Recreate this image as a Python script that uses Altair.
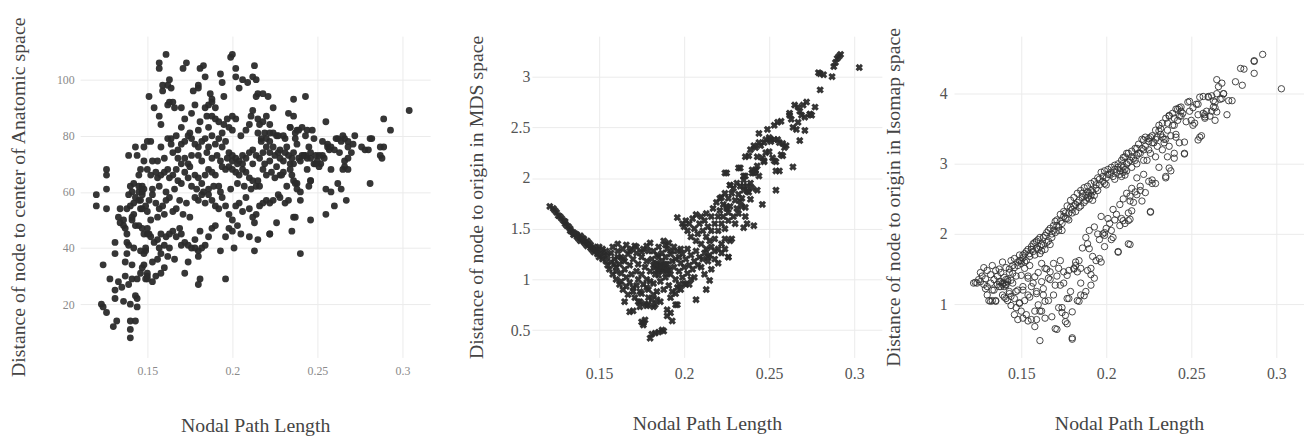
import altair as alt
import pandas as pd

# ---- data (x = nodal path length, y = distance) ----
anatomic_pts = [
    (0.120, 59), (0.120, 55), (0.126, 68), (0.126, 66), (0.126, 61), (0.126, 54), (0.123, 20), (0.124, 19),
    (0.126, 17), (0.124, 34), (0.128, 29), (0.130, 12), (0.131, 22), (0.131, 25), (0.131, 42), (0.131, 38),
    (0.132, 14), (0.133, 28), (0.134, 54), (0.133, 51), (0.134, 49), (0.136, 50), (0.135, 26), (0.136, 21),
    (0.137, 35), (0.137, 30), (0.137, 47), (0.138, 45), (0.138, 42), (0.139, 59), (0.139, 41), (0.140, 11),
    (0.140, 8), (0.140, 14), (0.140, 20), (0.141, 34), (0.141, 29), (0.142, 40), (0.142, 52), (0.142, 56),
    (0.143, 14), (0.143, 23), (0.144, 22), (0.144, 19), (0.144, 29), (0.140, 62), (0.141, 60), (0.139, 73),
    (0.143, 76), (0.142, 63), (0.140, 55), (0.138, 54), (0.136, 48), (0.138, 38), (0.139, 27), (0.141, 50),
    (0.143, 48), (0.145, 62), (0.145, 66), (0.146, 68), (0.146, 57), (0.147, 54), (0.147, 60), (0.148, 71),
    (0.147, 33), (0.148, 38), (0.149, 29), (0.149, 39), (0.150, 31), (0.150, 45), (0.150, 78),
    (0.157, 106), (0.157, 104), (0.161, 109), (0.159, 96), (0.162, 98), (0.163, 100), (0.164, 97), (0.171, 104),
    (0.173, 106), (0.181, 104), (0.183, 105), (0.184, 101), (0.188, 93), (0.187, 95), (0.180, 97), (0.180, 98),
    (0.177, 96), (0.193, 102), (0.194, 99), (0.199, 108), (0.200, 109), (0.202, 104), (0.202, 101), (0.206, 100),
    (0.204, 97), (0.209, 99), (0.212, 101), (0.213, 105), (0.214, 100), (0.159, 98),
    (0.151, 94), (0.154, 90), (0.162, 91), (0.163, 92), (0.165, 92), (0.166, 90), (0.170, 90), (0.178, 91),
    (0.184, 90), (0.186, 91), (0.188, 92), (0.190, 90), (0.195, 94), (0.214, 94), (0.215, 95), (0.218, 95),
    (0.221, 94), (0.224, 90), (0.236, 93), (0.243, 94), (0.157, 87), (0.158, 84),
    (0.176, 88), (0.172, 86), (0.181, 85), (0.185, 87), (0.188, 87), (0.190, 86), (0.192, 85), (0.186, 83),
    (0.180, 82), (0.175, 81), (0.170, 83), (0.167, 80), (0.164, 79), (0.197, 86), (0.200, 87), (0.202, 86),
    (0.198, 83), (0.200, 82), (0.208, 82), (0.210, 84), (0.211, 87), (0.212, 89), (0.215, 86), (0.216, 84),
    (0.218, 85), (0.220, 87), (0.224, 81), (0.226, 80), (0.230, 80), (0.234, 83), (0.236, 87), (0.233, 88),
    (0.238, 82), (0.241, 83), (0.244, 82), (0.255, 85), (0.243, 80), (0.248, 79), (0.237, 81), (0.205, 80),
    (0.194, 81), (0.188, 80), (0.195, 84), (0.215, 81), (0.219, 81), (0.222, 84),
    (0.152, 78), (0.148, 76), (0.158, 76), (0.162, 79), (0.164, 77), (0.168, 75), (0.170, 77), (0.172, 78),
    (0.174, 80), (0.176, 79), (0.178, 77), (0.180, 76), (0.182, 78), (0.184, 79), (0.186, 76), (0.190, 77),
    (0.192, 79), (0.194, 76), (0.196, 78), (0.198, 74), (0.200, 73), (0.202, 72), (0.204, 71), (0.206, 73),
    (0.208, 72), (0.210, 74), (0.212, 75), (0.214, 73), (0.216, 72), (0.218, 74), (0.220, 76), (0.222, 78),
    (0.225, 73), (0.228, 75), (0.230, 71), (0.232, 76), (0.235, 72), (0.236, 74), (0.238, 77), (0.240, 71),
    (0.242, 73), (0.244, 72), (0.246, 72), (0.248, 70), (0.250, 71), (0.252, 70), (0.254, 72), (0.256, 77),
    (0.258, 76), (0.260, 75), (0.262, 79), (0.264, 78), (0.266, 79), (0.268, 76), (0.270, 74), (0.272, 80),
    (0.276, 76), (0.278, 75), (0.281, 79), (0.288, 72), (0.289, 76), (0.289, 86), (0.293, 82), (0.304, 89),
    (0.266, 71), (0.265, 68), (0.258, 68), (0.253, 73), (0.249, 73), (0.245, 76), (0.234, 70), (0.228, 72),
    (0.222, 71), (0.219, 70), (0.212, 70), (0.206, 70), (0.203, 70), (0.200, 71), (0.197, 72), (0.172, 72),
    (0.168, 72), (0.165, 74), (0.176, 73), (0.180, 73), (0.185, 74), (0.188, 72), (0.191, 73), (0.160, 72),
    (0.156, 71), (0.153, 71), (0.144, 73), (0.170, 70), (0.174, 70), (0.182, 71), (0.193, 71),
    (0.150, 68), (0.152, 66), (0.155, 67), (0.156, 65), (0.158, 66), (0.160, 67), (0.162, 68), (0.163, 65),
    (0.165, 66), (0.167, 68), (0.168, 64), (0.172, 67), (0.174, 65), (0.176, 62), (0.178, 66), (0.180, 65),
    (0.182, 63), (0.184, 66), (0.186, 68), (0.188, 67), (0.190, 66), (0.192, 62), (0.194, 69), (0.196, 68),
    (0.198, 69), (0.200, 68), (0.202, 67), (0.204, 66), (0.206, 68), (0.208, 67), (0.210, 65), (0.212, 64),
    (0.214, 62), (0.216, 62), (0.218, 68), (0.220, 66), (0.223, 67), (0.226, 69), (0.228, 66), (0.232, 62),
    (0.234, 68), (0.236, 64), (0.238, 63), (0.240, 60), (0.244, 68), (0.246, 64), (0.255, 61), (0.258, 60),
    (0.262, 63), (0.264, 61), (0.266, 69), (0.268, 68), (0.281, 63), (0.145, 60), (0.147, 62), (0.148, 61),
    (0.153, 61), (0.157, 62), (0.161, 60), (0.166, 61), (0.170, 63), (0.175, 69), (0.179, 61), (0.183, 60),
    (0.186, 61), (0.189, 62), (0.193, 60), (0.199, 61), (0.203, 63), (0.207, 62), (0.211, 61), (0.215, 64),
    (0.225, 65), (0.230, 67), (0.251, 69), (0.245, 62),
    (0.143, 58), (0.145, 57), (0.147, 59), (0.149, 55), (0.151, 57), (0.153, 59), (0.155, 56), (0.157, 54),
    (0.159, 55), (0.161, 57), (0.163, 58), (0.165, 53), (0.167, 54), (0.169, 57), (0.171, 52), (0.173, 56),
    (0.175, 51), (0.178, 58), (0.180, 57), (0.182, 59), (0.184, 56), (0.186, 59), (0.188, 57), (0.190, 55),
    (0.192, 54), (0.194, 58), (0.196, 55), (0.198, 52), (0.200, 50), (0.202, 55), (0.204, 56), (0.206, 53),
    (0.208, 58), (0.210, 54), (0.212, 51), (0.214, 52), (0.216, 55), (0.218, 56), (0.220, 57), (0.222, 56),
    (0.224, 57), (0.226, 49), (0.228, 58), (0.231, 56), (0.236, 51), (0.240, 57), (0.246, 50), (0.255, 52),
    (0.260, 55), (0.267, 57), (0.213, 49), (0.160, 52), (0.156, 51), (0.152, 50), (0.150, 53), (0.146, 54),
    (0.141, 51),
    (0.145, 48), (0.147, 47), (0.148, 45), (0.150, 47), (0.152, 44), (0.154, 42), (0.156, 43), (0.158, 45),
    (0.160, 41), (0.161, 44), (0.163, 45), (0.165, 46), (0.167, 44), (0.169, 47), (0.170, 45), (0.172, 42),
    (0.174, 41), (0.176, 40), (0.178, 43), (0.181, 46), (0.184, 41), (0.186, 44), (0.188, 47), (0.190, 48),
    (0.193, 39), (0.196, 44), (0.198, 47), (0.200, 46), (0.201, 40), (0.203, 48), (0.205, 45), (0.210, 44),
    (0.213, 39), (0.215, 43), (0.222, 45), (0.235, 46), (0.157, 40), (0.163, 40), (0.170, 41), (0.180, 39),
    (0.182, 40), (0.146, 39), (0.149, 40), (0.151, 45),
    (0.150, 30), (0.150, 29), (0.153, 28), (0.155, 30), (0.153, 35), (0.158, 31), (0.160, 33), (0.162, 37),
    (0.166, 36), (0.172, 31), (0.174, 35), (0.178, 40), (0.180, 37), (0.180, 27), (0.181, 29), (0.196, 29),
    (0.240, 38), (0.158, 38), (0.156, 36), (0.148, 34), (0.146, 31),
    (0.253, 78), (0.256, 76), (0.257, 75), (0.261, 79), (0.265, 80), (0.268, 78), (0.271, 77), (0.268, 72),
    (0.263, 74), (0.251, 73), (0.249, 70), (0.246, 74), (0.243, 73), (0.241, 73), (0.239, 72), (0.236, 70),
    (0.233, 73), (0.231, 74), (0.229, 66), (0.235, 66), (0.237, 63), (0.246, 64), (0.247, 82), (0.239, 82),
    (0.234, 83), (0.237, 79), (0.231, 79), (0.227, 80), (0.222, 81), (0.220, 79), (0.217, 79), (0.217, 78),
    (0.222, 74), (0.224, 76), (0.227, 74), (0.227, 59), (0.233, 57), (0.238, 61), (0.222, 45), (0.237, 51),
    (0.282, 79), (0.280, 75), (0.287, 76), (0.287, 73),
]

mds_pts = [
    (0.121, 1.72), (0.123, 1.70), (0.124, 1.68), (0.125, 1.66), (0.126, 1.63), (0.127, 1.62), (0.128, 1.60),
    (0.129, 1.58), (0.130, 1.55), (0.130, 1.57), (0.131, 1.53), (0.132, 1.52), (0.133, 1.50), (0.133, 1.48),
    (0.134, 1.47), (0.135, 1.46), (0.135, 1.44), (0.136, 1.45), (0.137, 1.42), (0.137, 1.44), (0.138, 1.40),
    (0.139, 1.43), (0.139, 1.38), (0.140, 1.41), (0.141, 1.37), (0.141, 1.40), (0.142, 1.35), (0.143, 1.38),
    (0.143, 1.33), (0.144, 1.36), (0.145, 1.31), (0.145, 1.34), (0.146, 1.29), (0.147, 1.32), (0.147, 1.27),
    (0.148, 1.30), (0.149, 1.25), (0.149, 1.28), (0.150, 1.22), (0.150, 1.32), (0.151, 1.26), (0.152, 1.30),
    (0.152, 1.20), (0.153, 1.24), (0.154, 1.18), (0.154, 1.28), (0.155, 1.14), (0.155, 1.23),
    (0.156, 1.10), (0.157, 1.26), (0.157, 1.17), (0.158, 1.05), (0.158, 1.32), (0.159, 1.20), (0.160, 1.12),
    (0.160, 1.00), (0.161, 1.28), (0.161, 1.35), (0.162, 1.15), (0.162, 0.95), (0.163, 1.22), (0.163, 1.06),
    (0.164, 1.30), (0.164, 0.90), (0.165, 1.10), (0.165, 1.18), (0.166, 1.02), (0.166, 1.34), (0.167, 0.85),
    (0.167, 1.25), (0.168, 0.97), (0.168, 1.14), (0.169, 1.30), (0.169, 1.05), (0.170, 0.92), (0.170, 1.20),
    (0.171, 1.33), (0.171, 0.82), (0.172, 1.08), (0.172, 1.26), (0.173, 1.00), (0.173, 1.15), (0.174, 0.88),
    (0.174, 0.78), (0.175, 1.22), (0.175, 1.05), (0.176, 1.30), (0.176, 0.95), (0.177, 1.12), (0.177, 0.76),
    (0.178, 1.18), (0.178, 1.00), (0.179, 0.90), (0.179, 1.28), (0.180, 1.36), (0.180, 1.08), (0.181, 0.80),
    (0.181, 1.20), (0.182, 1.14), (0.182, 0.96), (0.183, 1.12), (0.183, 1.05), (0.184, 1.16), (0.184, 1.24),
    (0.185, 1.10), (0.185, 1.32), (0.186, 1.14), (0.186, 0.98), (0.187, 1.18), (0.187, 1.08), (0.188, 1.12),
    (0.188, 1.38), (0.189, 1.22), (0.189, 1.02), (0.190, 1.15), (0.190, 1.30), (0.191, 0.94), (0.191, 1.10),
    (0.192, 1.25), (0.192, 1.05), (0.193, 1.18), (0.193, 0.88), (0.194, 1.12), (0.194, 1.32), (0.195, 1.00),
    (0.195, 1.20), (0.196, 1.28), (0.196, 0.92), (0.197, 1.08), (0.197, 1.22), (0.198, 1.16), (0.198, 1.30),
    (0.199, 1.02), (0.199, 1.25), (0.200, 1.12), (0.200, 0.96), (0.201, 1.20), (0.202, 1.06), (0.202, 1.30),
    (0.203, 1.14), (0.204, 1.00), (0.204, 1.24), (0.205, 1.10), (0.206, 1.18), (0.206, 1.02), (0.207, 1.28),
    (0.208, 1.14), (0.209, 1.22), (0.210, 1.12), (0.211, 1.20), (0.212, 1.26), (0.213, 1.30), (0.214, 1.18),
    (0.215, 1.24), (0.216, 1.32), (0.218, 1.28), (0.220, 1.30), (0.222, 1.35), (0.224, 1.40), (0.226, 1.22),
    (0.160, 1.08), (0.163, 0.98), (0.166, 0.93), (0.170, 0.88), (0.172, 0.94), (0.175, 0.86), (0.178, 0.92),
    (0.180, 0.98), (0.182, 0.85), (0.184, 0.88), (0.186, 0.78), (0.188, 0.90), (0.159, 1.15), (0.161, 1.22),
    (0.164, 1.20), (0.168, 1.28), (0.172, 1.32), (0.175, 1.27), (0.178, 1.33), (0.182, 1.28), (0.185, 1.22),
    (0.187, 1.26), (0.189, 1.34), (0.191, 1.36), (0.193, 1.28), (0.184, 1.09), (0.186, 1.11), (0.188, 1.10),
    (0.190, 1.06), (0.183, 1.15), (0.187, 1.13), (0.189, 1.15), (0.190, 1.09), (0.185, 1.04),
    (0.168, 0.68), (0.170, 0.69), (0.175, 0.58), (0.176, 0.57), (0.177, 0.60), (0.176, 0.55), (0.180, 0.42),
    (0.181, 0.46), (0.183, 0.47), (0.185, 0.48), (0.187, 0.50), (0.188, 0.49), (0.190, 0.64), (0.192, 0.67),
    (0.193, 0.59), (0.178, 0.74), (0.179, 0.75), (0.182, 0.73), (0.183, 0.75), (0.195, 0.75), (0.196, 0.75),
    (0.190, 0.70), (0.173, 0.78), (0.179, 0.82), (0.174, 0.73), (0.184, 0.80), (0.192, 0.82), (0.195, 0.86),
    (0.198, 0.90), (0.201, 0.95), (0.207, 0.80), (0.213, 0.90), (0.215, 0.99), (0.203, 0.95), (0.197, 0.95),
    (0.165, 0.78),
    (0.196, 1.61), (0.199, 1.55), (0.200, 1.52), (0.201, 1.58), (0.202, 1.48), (0.203, 1.55), (0.204, 1.42),
    (0.205, 1.60), (0.206, 1.50), (0.207, 1.38), (0.207, 1.64), (0.208, 1.45), (0.209, 1.55), (0.210, 1.62),
    (0.210, 1.35), (0.211, 1.48), (0.212, 1.58), (0.213, 1.42), (0.213, 1.65), (0.214, 1.52), (0.215, 1.38),
    (0.216, 1.62), (0.216, 1.48), (0.217, 1.70), (0.218, 1.55), (0.218, 1.40), (0.219, 1.76), (0.220, 1.62),
    (0.220, 1.48), (0.221, 1.80), (0.221, 1.68), (0.222, 1.55), (0.223, 1.74), (0.223, 1.62), (0.224, 1.85),
    (0.224, 1.50), (0.225, 2.05), (0.225, 1.70), (0.226, 1.80), (0.226, 1.58), (0.227, 1.93), (0.227, 1.72),
    (0.228, 1.85), (0.228, 1.40), (0.229, 1.62), (0.229, 1.90), (0.230, 1.78), (0.230, 1.55), (0.231, 1.95),
    (0.231, 1.70), (0.232, 1.84), (0.232, 1.65), (0.233, 2.10), (0.233, 1.92), (0.234, 1.80), (0.234, 1.72),
    (0.235, 1.98), (0.235, 1.88), (0.236, 2.02), (0.236, 1.62), (0.237, 1.92), (0.237, 1.55), (0.238, 2.22),
    (0.238, 1.86), (0.239, 2.28), (0.239, 1.95), (0.240, 2.08), (0.240, 1.90), (0.241, 2.05), (0.241, 1.53),
    (0.242, 2.30), (0.242, 2.08), (0.243, 2.12), (0.243, 1.88), (0.244, 2.44), (0.244, 2.02), (0.245, 2.32),
    (0.246, 1.74), (0.246, 2.20), (0.247, 2.35), (0.247, 2.16), (0.248, 2.38), (0.248, 2.25), (0.249, 2.48),
    (0.250, 2.40), (0.250, 2.26), (0.251, 2.38), (0.252, 2.20), (0.253, 2.52), (0.253, 2.38), (0.254, 2.16),
    (0.254, 2.07), (0.255, 2.55), (0.254, 1.88), (0.256, 2.35), (0.256, 2.07), (0.257, 2.56), (0.258, 2.34),
    (0.258, 2.22), (0.259, 2.30), (0.260, 2.32), (0.262, 2.62), (0.263, 2.58), (0.264, 2.11), (0.266, 2.48),
    (0.267, 2.70), (0.267, 2.55), (0.268, 2.66), (0.268, 2.37), (0.269, 2.62), (0.270, 2.72), (0.271, 2.47),
    (0.271, 2.60), (0.272, 2.75), (0.274, 2.63), (0.275, 2.62), (0.277, 2.70), (0.279, 3.04), (0.280, 3.03),
    (0.280, 2.87), (0.282, 3.02), (0.287, 3.00), (0.288, 3.10), (0.289, 3.14), (0.290, 3.18), (0.291, 3.20),
    (0.292, 3.22), (0.303, 3.09), (0.214, 1.22), (0.218, 1.20), (0.222, 1.26), (0.226, 1.22), (0.224, 1.30),
    (0.216, 1.10), (0.220, 1.16), (0.212, 1.05), (0.227, 1.38),
    (0.265, 2.72), (0.262, 2.64), (0.264, 2.50), (0.274, 2.63), (0.243, 2.21), (0.247, 2.17), (0.253, 2.17),
    (0.257, 2.23), (0.236, 2.21), (0.242, 2.07), (0.224, 2.05), (0.232, 2.10), (0.235, 2.02), (0.240, 2.05),
    (0.227, 1.93), (0.235, 1.92), (0.237, 1.87), (0.239, 1.79), (0.233, 1.77), (0.236, 1.71), (0.235, 1.51),
    (0.222, 1.81), (0.225, 1.72), (0.226, 1.66), (0.241, 2.32), (0.244, 2.35), (0.251, 2.36), (0.255, 2.38),
]

isomap_pts = [
    (0.122, 1.30), (0.123, 1.31), (0.124, 1.30), (0.125, 1.35), (0.126, 1.32), (0.126, 1.45), (0.127, 1.40),
    (0.128, 1.28), (0.128, 1.52), (0.129, 1.22), (0.129, 1.36), (0.130, 1.48), (0.130, 1.25), (0.131, 1.05),
    (0.132, 1.30), (0.132, 1.42), (0.133, 1.05), (0.133, 1.55), (0.134, 1.35), (0.134, 1.20), (0.135, 1.48),
    (0.135, 1.05), (0.136, 1.28), (0.136, 1.40), (0.137, 1.32), (0.137, 1.50), (0.138, 1.25), (0.138, 1.45),
    (0.139, 1.30), (0.139, 1.60), (0.140, 1.38), (0.140, 1.10), (0.141, 1.28), (0.141, 1.52), (0.142, 1.35),
    (0.142, 1.05), (0.143, 1.45), (0.143, 1.15), (0.144, 1.62), (0.144, 0.98), (0.145, 1.30), (0.145, 1.55),
    (0.146, 1.65), (0.146, 1.08), (0.147, 1.40), (0.147, 0.95), (0.148, 1.60), (0.148, 1.20), (0.149, 1.70),
    (0.149, 1.02), (0.150, 1.58), (0.150, 0.90), (0.151, 1.66), (0.151, 1.25), (0.152, 1.72), (0.152, 1.05),
    (0.153, 1.62), (0.153, 0.85), (0.154, 1.78), (0.154, 1.40), (0.155, 1.68), (0.155, 1.10), (0.156, 1.82),
    (0.156, 0.78), (0.157, 1.75), (0.157, 1.30), (0.158, 1.88), (0.158, 0.68), (0.159, 1.80), (0.159, 1.15),
    (0.160, 1.92), (0.160, 1.45), (0.161, 1.72), (0.161, 0.48), (0.162, 1.85), (0.162, 0.90), (0.163, 1.95),
    (0.163, 1.22), (0.164, 1.78), (0.164, 0.80), (0.165, 2.02), (0.165, 1.50), (0.166, 1.90), (0.166, 1.05),
    (0.167, 2.08), (0.167, 1.35), (0.168, 1.95), (0.168, 0.82), (0.169, 2.12), (0.169, 1.58), (0.170, 2.02),
    (0.170, 0.65), (0.171, 2.20), (0.171, 1.40), (0.172, 2.10), (0.172, 0.95), (0.173, 2.28), (0.173, 1.62),
    (0.174, 2.15), (0.174, 0.88), (0.175, 2.32), (0.175, 1.30), (0.176, 2.22), (0.176, 0.75), (0.177, 2.40),
    (0.177, 1.08), (0.178, 2.30), (0.178, 1.48), (0.179, 2.48), (0.179, 1.18), (0.180, 2.35), (0.180, 0.50),
    (0.181, 2.52), (0.181, 1.50), (0.182, 2.42), (0.182, 1.55), (0.183, 2.58), (0.183, 1.05), (0.184, 2.48),
    (0.184, 1.62), (0.185, 2.62), (0.185, 1.30), (0.186, 2.52), (0.186, 1.80), (0.187, 2.66), (0.187, 1.12),
    (0.188, 2.55), (0.188, 1.95), (0.189, 2.68), (0.189, 1.48), (0.190, 2.58), (0.190, 2.05), (0.191, 2.72),
    (0.191, 1.42), (0.192, 2.60), (0.192, 1.68), (0.193, 2.75), (0.193, 2.10), (0.194, 2.65), (0.194, 1.62),
    (0.195, 2.80), (0.195, 2.00), (0.196, 2.70), (0.196, 1.92), (0.197, 2.88), (0.197, 2.25), (0.198, 2.75),
    (0.198, 2.00), (0.199, 2.90), (0.199, 1.82), (0.200, 2.80), (0.200, 2.08), (0.201, 2.92), (0.201, 2.22),
    (0.202, 2.85), (0.202, 2.15), (0.203, 2.95), (0.203, 1.92), (0.204, 2.82), (0.204, 2.35), (0.205, 2.98),
    (0.205, 2.20), (0.206, 2.88), (0.206, 2.28), (0.207, 3.00), (0.207, 1.75), (0.208, 2.90), (0.208, 2.42),
    (0.209, 3.05), (0.209, 2.22), (0.210, 2.95), (0.210, 2.50), (0.211, 3.10), (0.211, 2.15), (0.212, 3.00),
    (0.212, 2.58), (0.213, 3.15), (0.213, 2.30), (0.214, 3.05), (0.214, 1.85), (0.215, 3.18), (0.215, 2.65),
    (0.216, 3.08), (0.216, 2.45), (0.217, 3.22), (0.217, 2.60), (0.218, 3.12), (0.218, 2.80), (0.219, 3.28),
    (0.220, 3.15), (0.220, 2.62), (0.221, 3.35), (0.222, 3.20), (0.222, 2.85), (0.223, 3.38), (0.224, 3.05),
    (0.225, 3.32), (0.225, 2.75), (0.226, 2.32), (0.227, 3.40), (0.227, 2.72), (0.228, 3.30), (0.229, 3.48),
    (0.229, 3.10), (0.230, 3.38), (0.231, 3.55), (0.231, 2.95), (0.232, 3.42), (0.233, 3.58), (0.233, 3.20),
    (0.234, 3.35), (0.235, 3.65), (0.235, 2.80), (0.236, 3.48), (0.236, 3.10), (0.237, 3.68), (0.237, 3.25),
    (0.238, 3.40), (0.238, 2.90), (0.239, 3.72), (0.240, 3.55), (0.240, 3.08), (0.241, 3.78), (0.241, 3.42),
    (0.242, 3.62), (0.243, 3.80), (0.243, 3.30), (0.244, 3.68), (0.245, 3.72), (0.246, 3.15), (0.247, 3.60),
    (0.248, 3.88), (0.249, 3.75), (0.250, 3.62), (0.251, 3.80), (0.252, 3.58), (0.253, 3.85), (0.254, 3.70),
    (0.255, 3.95), (0.256, 3.40), (0.257, 3.72), (0.258, 3.65), (0.259, 3.75), (0.260, 3.95), (0.261, 3.68),
    (0.262, 3.75), (0.263, 3.90), (0.264, 3.80), (0.265, 4.20), (0.265, 4.00), (0.266, 4.10), (0.267, 3.92),
    (0.268, 4.15), (0.269, 4.00), (0.271, 3.70), (0.272, 3.90), (0.274, 3.90), (0.276, 4.17), (0.279, 4.36),
    (0.281, 4.35), (0.280, 4.12), (0.287, 4.46), (0.287, 4.47), (0.287, 4.29), (0.292, 4.56), (0.303, 4.07),
    (0.138, 1.32), (0.139, 1.28), (0.140, 1.30), (0.141, 1.35), (0.142, 1.32), (0.140, 1.25), (0.160, 1.78),
    (0.161, 1.82), (0.162, 1.76), (0.163, 1.84), (0.188, 2.48), (0.189, 2.52), (0.190, 2.50), (0.191, 2.55),
    (0.192, 2.48), (0.208, 2.85), (0.209, 2.82), (0.210, 2.88), (0.211, 2.84), (0.212, 2.90), (0.170, 2.18),
    (0.175, 2.25), (0.180, 2.30), (0.185, 2.40), (0.150, 1.62), (0.148, 1.55), (0.152, 1.60), (0.155, 1.72),
    (0.158, 1.70), (0.165, 1.88), (0.168, 2.00), (0.172, 2.05), (0.178, 2.20), (0.182, 2.32), (0.195, 2.62),
    (0.200, 2.70), (0.205, 2.78), (0.215, 2.95), (0.218, 3.00), (0.222, 3.05), (0.226, 3.15), (0.230, 3.25),
    (0.234, 3.30),
    (0.172, 1.51), (0.175, 1.46), (0.177, 1.41), (0.173, 1.27), (0.169, 1.13), (0.170, 1.27), (0.164, 1.04),
    (0.163, 1.13), (0.160, 0.99), (0.158, 0.90), (0.161, 0.90), (0.159, 0.78), (0.154, 0.76), (0.151, 0.80),
    (0.148, 0.78), (0.146, 0.85), (0.149, 1.01), (0.147, 1.18), (0.151, 1.20), (0.154, 1.13), (0.156, 1.25),
    (0.159, 1.18), (0.162, 1.32), (0.166, 1.37), (0.167, 1.46), (0.164, 1.51), (0.162, 1.58), (0.158, 1.39),
    (0.154, 1.37), (0.150, 1.41), (0.152, 1.51), (0.155, 1.55), (0.144, 1.11), (0.143, 1.18), (0.141, 1.08),
    (0.139, 1.13), (0.135, 1.04), (0.132, 1.04), (0.130, 1.13), (0.133, 1.20), (0.137, 1.25), (0.141, 1.27),
    (0.144, 1.34), (0.145, 1.44),
    (0.180, 0.52), (0.171, 0.64), (0.177, 0.72), (0.176, 0.84), (0.180, 0.89), (0.174, 0.95), (0.178, 1.08),
    (0.184, 1.04), (0.185, 1.13), (0.188, 1.18), (0.191, 1.27), (0.193, 1.37), (0.191, 1.51), (0.185, 1.51),
    (0.183, 1.46), (0.181, 1.51), (0.182, 1.60), (0.196, 1.65), (0.197, 1.60), (0.207, 1.74), (0.213, 1.86),
    (0.190, 1.79), (0.189, 1.86), (0.199, 1.98), (0.199, 2.02), (0.204, 1.95), (0.203, 2.05), (0.208, 2.12),
    (0.210, 2.19), (0.214, 2.21), (0.214, 2.47), (0.215, 2.33), (0.213, 2.19), (0.226, 2.31), (0.220, 2.68),
    (0.223, 2.59), (0.218, 2.56), (0.221, 2.47), (0.214, 2.54), (0.229, 2.72), (0.227, 2.77), (0.235, 2.82),
    (0.237, 2.94), (0.240, 3.15), (0.246, 3.14), (0.246, 3.31), (0.241, 3.38), (0.235, 3.35), (0.233, 3.38),
    (0.231, 3.47), (0.210, 3.09), (0.212, 3.15), (0.218, 3.22), (0.222, 3.34), (0.225, 3.36), (0.226, 3.38),
    (0.251, 3.55), (0.254, 3.34), (0.255, 3.38), (0.242, 3.78), (0.244, 3.81), (0.243, 3.68), (0.237, 3.69),
    (0.239, 3.55), (0.249, 3.89), (0.254, 3.85), (0.258, 3.70), (0.258, 3.67), (0.257, 3.96), (0.260, 3.96),
    (0.262, 3.97), (0.264, 3.88), (0.263, 3.81), (0.265, 3.74), (0.264, 3.62), (0.268, 3.93), (0.269, 4.00),
    (0.143, 1.50), (0.146, 1.52), (0.149, 1.62), (0.151, 1.70), (0.153, 1.75), (0.156, 1.78), (0.157, 1.86),
    (0.159, 1.90), (0.161, 1.95), (0.164, 1.98), (0.166, 2.05), (0.167, 1.85), (0.169, 2.05), (0.171, 2.12),
    (0.173, 2.18), (0.174, 2.05), (0.176, 2.30), (0.177, 2.22), (0.179, 2.38), (0.181, 2.40), (0.183, 2.45),
    (0.184, 2.38), (0.186, 2.58), (0.187, 2.45), (0.189, 2.60), (0.191, 2.62), (0.193, 2.55), (0.194, 2.70),
    (0.196, 2.78), (0.198, 2.82), (0.199, 2.72), (0.201, 2.85), (0.203, 2.88), (0.205, 2.92), (0.207, 2.95),
    (0.209, 2.98), (0.211, 2.92), (0.213, 3.02), (0.215, 3.10), (0.217, 3.05), (0.219, 3.15), (0.221, 3.22),
    (0.223, 3.25), (0.225, 3.20), (0.227, 3.30), (0.229, 3.35), (0.232, 3.50), (0.236, 3.58), (0.240, 3.65),
    (0.244, 3.75),
]

x_ticks = [0.15, 0.2, 0.25, 0.3]
anat_ticks = [20, 40, 60, 80, 100]
mds_ticks = [0.5, 1, 1.5, 2, 2.5, 3]
iso_ticks = [1, 2, 3, 4]

FONT = "Liberation Serif"
W, H = 354, 325
X_DOMAIN = [0.1105, 0.3163]


def panel(pts, ytitle, ydomain, yticks, yfmt, mark_kw, lab_size, lab_color,
          ylabpad, ytitlepad, xlabpad, xtitlepad):
    df = pd.DataFrame(pts, columns=["npl", "dist"])
    return alt.Chart(df).mark_point(**mark_kw).encode(
        x=alt.X("npl:Q",
                scale=alt.Scale(domain=X_DOMAIN, nice=False, zero=False),
                axis=alt.Axis(values=x_ticks, format=".2~f", title="Nodal Path Length",
                              labelFontSize=lab_size, labelColor=lab_color,
                              labelPadding=xlabpad, titlePadding=xtitlepad)),
        y=alt.Y("dist:Q",
                scale=alt.Scale(domain=ydomain, nice=False, zero=False),
                axis=alt.Axis(values=yticks, format=yfmt, title=ytitle,
                              labelFontSize=lab_size, labelColor=lab_color,
                              labelPadding=ylabpad, titlePadding=ytitlepad)),
    ).properties(width=W, height=H)


p1 = panel(anatomic_pts, "Distance of node to center of Anatomic space", [1, 115.5], anat_ticks, "d",
           dict(shape="circle", filled=True, size=48, color="#2b2b2b", opacity=0.95, strokeWidth=0),
           12, "#8a8a8a", 6, 28, 8, 40)
p2 = panel(mds_pts, "Distance of node to origin in MDS space", [0.23, 3.40], mds_ticks, ".1~f",
           dict(shape="cross", angle=45, filled=True, size=58, color="#2b2b2b", opacity=0.95),
           16, "#555555", 2, 24, 8, 33)
p3 = panel(isomap_pts, "Distance of node to origin in Isomap space", [0.24, 4.82], iso_ticks, "d",
           dict(shape="circle", filled=False, size=42, color="#333333", strokeWidth=1, opacity=0.9),
           16, "#555555", 7, 36, 8, 33)

inner = alt.hconcat(p1, p2, spacing=37)
chart = alt.hconcat(inner, p3, spacing=2).properties(
    padding={"left": 1, "top": 6, "right": 0, "bottom": 0}
).configure_view(stroke=None).configure_axis(
    domain=False, ticks=False, gridColor="#ebebeb", gridWidth=1,
    labelFont=FONT, titleFont=FONT, titleFontWeight="normal", titleFontSize=20,
    titleColor="#444444"
)

chart.save("out.html", embed_options={"renderer": "svg", "actions": False})
